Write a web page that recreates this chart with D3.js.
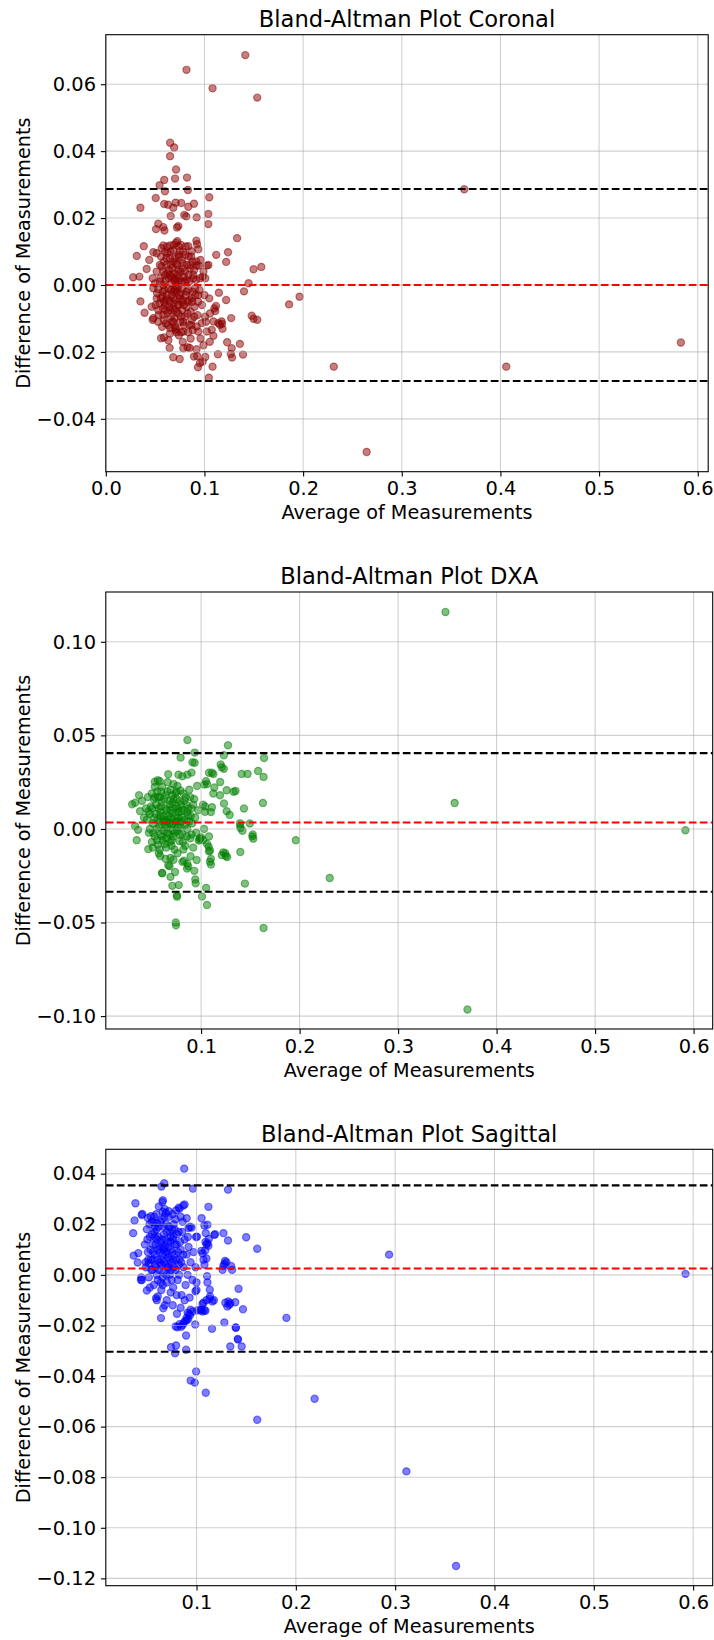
<!DOCTYPE html>
<html>
<head>
<meta charset="utf-8">
<script src="https://cdn.jsdelivr.net/npm/d3@7"></script>
<style>
  html, body { margin: 0; padding: 0; background: #fff; }
  svg { display: block; }
  text { font-family: 'DejaVu Sans', 'Liberation Sans', sans-serif; fill: #000; }
</style>
</head>
<body>
<svg id="chart" width="714" height="1640"></svg>
<script>
// ---- Data: [average, difference] per subject ----
const coronalPoints = [
  [0.1414,0.0687],[0.0818,0.0643],[0.1082,0.0588],[0.1535,0.0560],
  [0.0652,0.0425],[0.0693,0.0411],[0.0652,0.0385],[0.0712,0.0345],
  [0.0592,0.0314],[0.0702,0.0318],[0.0823,0.0321],[0.0545,0.0298],[0.0600,0.0280],[0.0832,0.0284],[0.3633,0.0286],
  [0.1049,0.0262],[0.0506,0.0260],[0.0351,0.0231],[0.0592,0.0242],[0.0631,0.0240],[0.0684,0.0231],[0.0708,0.0246],[0.0765,0.0245],[0.0836,0.0234],[0.0894,0.0243],
  [0.0658,0.0206],[0.0795,0.0209],[0.0816,0.0205],[0.0921,0.0202],[0.1039,0.0212],
  [0.1039,0.0182],[0.0532,0.0183],[0.0583,0.0173],[0.0509,0.0167],[0.0594,0.0163],[0.0735,0.0176],[0.0722,0.0172],
  [0.1331,0.0140],[0.0385,0.0116],[0.0725,0.0131],[0.0712,0.0126],[0.0918,0.0132],[0.0925,0.0122],
  [0.1239,0.0098],[0.1119,0.0090],[0.1220,0.0069],[0.0314,0.0087],[0.1498,0.0047],[0.1576,0.0054],[0.0943,0.0058],[0.1040,0.0060],[0.0277,0.0023],
  [0.1447,0.0005],[0.1401,-0.0019],[0.1146,-0.0023],[0.1220,-0.0045],[0.1858,-0.0058],[0.1964,-0.0035],[0.0351,-0.0049],[0.0393,-0.0083],
  [0.1479,-0.0092],[0.1498,-0.0101],[0.1535,-0.0104],[0.1271,-0.0099],[0.1178,-0.0116],[0.1183,-0.0131],
  [0.1054,-0.0170],[0.1230,-0.0171],[0.1359,-0.0176],[0.1276,-0.0189],[0.1267,-0.0206],[0.1280,-0.0217],[0.1391,-0.0208],[0.1137,-0.0207],
  [0.1082,-0.0244],[0.0934,-0.0246],[0.0954,-0.0233],[0.1008,-0.0215],[0.0926,-0.0212],[0.0920,-0.0192],[0.0828,-0.0186],[0.0850,-0.0188],
  [0.0684,-0.0216],[0.0749,-0.0221],[0.0647,-0.0188],[0.0560,-0.0159],[0.0590,-0.0157],[0.0634,-0.0165],
  [0.1044,-0.0277],[0.2311,-0.0244],[0.2644,-0.0499],[0.4059,-0.0244],[0.5829,-0.0172],
  [0.0714,-0.0141],[0.0765,-0.0141],[0.0835,-0.0141],[0.0706,-0.0134],
  [0.0340,0.0025],[0.0414,0.0048],[0.0441,0.0075],[0.0482,0.0098],[0.0475,0.0020],[0.0475,-0.0104],[0.0566,0.0110],[0.0651,0.0080],
  [0.0786,0.0099],[0.0871,0.0101],[0.0938,0.0107],[0.0921,0.0058],[0.1023,0.0058],
  [0.0982,0.0025],[0.1009,0.0020],[0.0887,0.0030],[0.0820,0.0015],[0.1117,-0.0063],[0.1100,-0.0070],[0.1056,-0.0085],[0.1110,-0.0078],
  [0.1049,-0.0040],[0.1006,-0.0095],[0.0972,-0.0114],[0.0921,-0.0124],[0.0871,-0.0104],[0.0820,-0.0065],[0.0735,-0.0085],[0.0684,-0.0110],
  [0.0651,-0.0129],[0.0786,-0.0139],[0.0846,-0.0119],[0.0482,-0.0099],[0.0532,-0.0075],[0.0583,-0.0090],[0.0516,-0.0040],[0.0465,-0.0065],
  [0.0482,-0.0010],[0.0532,-0.0013],[0.0583,0.0000],[0.0617,-0.0030],[0.0684,-0.0020],[0.0735,-0.0005],[0.0769,0.0010],[0.0836,-0.0015],
  [0.0904,-0.0010],[0.0938,-0.0030],[0.0871,-0.0040],[0.0752,-0.0040],[0.0684,-0.0055],[0.0600,-0.0060],[0.0651,-0.0075],[0.0549,0.0060],
  [0.0583,0.0040],[0.0617,0.0060],[0.0684,0.0070],[0.0735,0.0045],[0.0803,0.0040],[0.0854,0.0050],[0.0651,0.0030],[0.0702,0.0020],
  [0.0516,0.0095],[0.0600,0.0099],[0.0684,0.0104],[0.0735,0.0090],
  [0.0786,-0.0189],[0.0894,-0.0214],[0.0982,-0.0229],
  [0.0938,-0.0139],[0.1023,-0.0139],[0.1074,-0.0134],[0.1140,-0.0114],[0.1157,-0.0119],[0.1174,-0.0109],[0.1091,-0.0109],[0.1091,-0.0152],
  [0.0500,0.0005],[0.0520,-0.0025],[0.0545,-0.0055],[0.0555,0.0020],[0.0570,-0.0035],[0.0580,-0.0070],[0.0595,-0.0015],[0.0605,0.0015],
  [0.0610,-0.0045],[0.0625,-0.0085],[0.0635,-0.0010],[0.0640,0.0045],[0.0650,-0.0050],[0.0660,-0.0095],[0.0665,0.0005],[0.0670,-0.0030],
  [0.0680,-0.0070],[0.0690,0.0035],[0.0695,-0.0100],[0.0700,-0.0045],[0.0705,0.0010],[0.0715,-0.0020],[0.0720,-0.0080],[0.0725,0.0060],
  [0.0740,-0.0060],[0.0745,0.0020],[0.0755,-0.0110],[0.0760,-0.0025],[0.0770,0.0075],[0.0775,-0.0075],[0.0780,-0.0045],[0.0790,0.0025],
  [0.0800,-0.0095],[0.0810,-0.0030],[0.0825,0.0060],[0.0830,-0.0050],[0.0845,0.0010],[0.0860,-0.0080],[0.0865,0.0085],[0.0880,-0.0020],
  [0.0895,0.0045],[0.0900,-0.0065],[0.0915,0.0015],[0.0930,-0.0090],[0.0950,-0.0015],[0.0960,0.0075],[0.0975,-0.0060],[0.0990,0.0040],
  [0.1000,-0.0030],[0.1015,-0.0110],
  [0.0560,0.0085],[0.0590,0.0070],[0.0625,0.0095],[0.0660,0.0060],[0.0700,0.0080],[0.0750,0.0100],[0.0780,0.0065],[0.0810,0.0115],
  [0.0840,0.0085],[0.0880,0.0070],[0.0620,0.0115],[0.0690,0.0120],[0.0760,0.0120],
  [0.0530,-0.0110],[0.0570,-0.0125],[0.0610,-0.0115],[0.0650,-0.0145],[0.0700,-0.0125],[0.0740,-0.0150],[0.0790,-0.0120],[0.0880,-0.0135],
  [0.0960,-0.0160],[0.0860,-0.0160],[0.0780,-0.0170],[0.0990,-0.0180],
  [0.0583,0.0118],[0.0651,0.0118],[0.0735,0.0116],[0.0836,0.0116],
  [0.0505,-0.0060],[0.0515,0.0040],[0.0535,-0.0090],[0.0548,0.0010],[0.0558,-0.0040],[0.0565,0.0055],[0.0578,-0.0020],[0.0588,-0.0105],
  [0.0598,0.0030],[0.0603,-0.0075],[0.0615,0.0080],[0.0622,-0.0040],[0.0632,-0.0120],[0.0638,0.0020],[0.0647,-0.0065],[0.0655,0.0100],
  [0.0663,-0.0015],[0.0672,-0.0110],[0.0678,0.0050],[0.0687,-0.0040],[0.0692,0.0015],[0.0698,-0.0075],[0.0707,0.0065],[0.0712,-0.0130],
  [0.0718,-0.0010],[0.0728,0.0030],[0.0733,-0.0060],[0.0742,0.0085],[0.0748,-0.0030],[0.0757,0.0040],[0.0763,-0.0095],[0.0772,-0.0010],
  [0.0778,0.0050],[0.0785,-0.0110],[0.0793,-0.0060],[0.0802,0.0010],[0.0808,0.0090],[0.0818,-0.0020],[0.0828,-0.0085],[0.0838,0.0030],
  [0.0848,-0.0045],[0.0857,0.0060],[0.0868,-0.0120],[0.0877,-0.0050],[0.0885,0.0020],[0.0897,-0.0095],[0.0908,-0.0030],[0.0918,0.0070],
  [0.0935,-0.0050],[0.0955,0.0020],[0.0665,0.0025],[0.0700,-0.0015],[0.0735,0.0010],[0.0770,-0.0050],[0.0625,0.0035],[0.0590,-0.0050]
];

const dxaPoints = [
  [0.3481,0.1159],[0.3574,0.0139],[0.3704,-0.0965],[0.5917,-0.0007],[0.2306,-0.0262],[0.1962,-0.0060],[0.1634,-0.0529],[0.1445,-0.0292],
  [0.1398,-0.0123],[0.1495,0.0029],[0.1525,-0.0030],[0.1530,-0.0052],[0.1398,0.0015],[0.1400,0.0005],[0.1628,0.0139],
  [0.0861,0.0475],[0.1273,0.0447],[0.0935,0.0408],[0.1231,0.0394],[0.0792,0.0381],[0.1639,0.0379],[0.0912,0.0356],[0.0935,0.0354],
  [0.1199,0.0344],[0.1231,0.0321],[0.1412,0.0294],[0.1472,0.0294],[0.1579,0.0310],[0.1634,0.0278],[0.0666,0.0292],[0.1080,0.0300],
  [0.1110,0.0300],[0.1125,0.0293],[0.0903,0.0301],[0.0810,0.0281],[0.1194,0.0251],[0.1032,0.0237],[0.1134,0.0221],[0.1259,0.0207],
  [0.1330,0.0199],[0.1350,0.0203],[0.1435,0.0109],[0.0300,0.0132],[0.0330,0.0140],[0.0370,0.0180],[0.0530,0.0252],[0.0560,0.0260],[0.0580,0.0255],
  [0.0743,-0.0500],[0.0745,-0.0515],[0.0754,-0.0355],[0.0756,-0.0362],[0.0708,-0.0304],[0.0773,-0.0300],[0.0689,-0.0256],[0.0680,-0.0199],
  [0.0736,-0.0230],[0.0603,-0.0235],[0.0606,-0.0237],[0.0857,-0.0212],[0.0870,-0.0200],[0.0931,-0.0224],[0.0941,-0.0270],[0.0945,-0.0290],
  [0.1051,-0.0315],[0.1009,-0.0361],[0.1060,-0.0406],[0.1225,-0.0125],[0.1245,-0.0130],[0.1265,-0.0150],[0.1090,-0.0175],[0.1100,-0.0190],
  [0.0893,-0.0146],[0.0826,-0.0170],[0.0860,-0.0185],[0.0955,-0.0166],[0.1077,-0.0095],[0.1090,-0.0115],[0.0984,-0.0055],[0.0975,-0.0062],
  [0.0346,-0.0060],[0.0360,-0.0005],[0.0330,0.0015],[0.0464,-0.0108],[0.0510,-0.0100],[0.0570,-0.0130],[0.0585,-0.0145],
  [0.0810,-0.0176],[0.0667,-0.0194],[0.0640,-0.0160],[0.0690,-0.0155],[0.0720,-0.0165],[0.1210,-0.0140],[0.1250,-0.0145],[0.1080,-0.0120],
  [0.1100,-0.0160],[0.1060,-0.0080],[0.0990,-0.0050],[0.1000,-0.0045],[0.1020,-0.0060],[0.1030,0.0000],[0.1080,-0.0040],[0.1420,-0.0010],[0.1520,-0.0040],
  [0.1050,0.0255],[0.1060,0.0240],[0.1124,0.0189],[0.1192,0.0180],[0.1232,0.0136],[0.1260,0.0095],[0.1290,0.0075],[0.1110,0.0116],
  [0.1100,0.0090],[0.1040,0.0091],[0.1020,0.0130],[0.1040,0.0120],[0.1395,0.0030],
  [0.0380,0.0095],[0.0463,0.0093],[0.0480,0.0080],[0.0530,0.0170],[0.0580,0.0170],[0.0660,0.0250],[0.0720,0.0240],[0.0750,0.0200],
  [0.0790,0.0205],[0.0770,0.0290],[0.0860,0.0290],[0.1210,0.0330],
  [0.0450,0.0050],[0.0470,-0.0020],[0.0490,0.0120],[0.0500,-0.0070],[0.0510,0.0030],[0.0520,0.0160],[0.0530,-0.0040],[0.0540,0.0080],
  [0.0550,0.0000],[0.0555,0.0200],[0.0560,-0.0085],[0.0570,0.0110],[0.0580,0.0040],[0.0590,-0.0030],[0.0600,0.0145],[0.0605,0.0225],
  [0.0610,-0.0060],[0.0620,0.0070],[0.0630,0.0010],[0.0640,0.0180],[0.0645,-0.0100],[0.0650,0.0100],[0.0660,-0.0020],[0.0670,0.0050],
  [0.0680,0.0130],[0.0685,-0.0070],[0.0690,0.0210],[0.0700,0.0020],[0.0710,0.0085],[0.0715,-0.0040],[0.0720,0.0160],[0.0730,-0.0110],
  [0.0740,0.0040],[0.0750,0.0120],[0.0755,-0.0010],[0.0760,0.0230],[0.0770,0.0060],[0.0780,-0.0065],[0.0785,0.0150],[0.0790,0.0010],
  [0.0800,0.0095],[0.0810,-0.0030],[0.0820,0.0190],[0.0830,0.0050],[0.0840,-0.0090],[0.0850,0.0130],[0.0860,0.0000],[0.0870,0.0070],
  [0.0880,0.0210],[0.0890,-0.0050],[0.0900,0.0110],[0.0910,0.0030],[0.0920,-0.0100],[0.0930,0.0160],[0.0940,0.0060],[0.0950,-0.0020],
  [0.0960,0.0230],[0.0970,0.0100],
  [0.0500,0.0190],[0.0530,0.0225],[0.0560,0.0050],[0.0590,0.0120],[0.0620,-0.0010],[0.0650,0.0040],[0.0680,0.0030],[0.0710,0.0140],
  [0.0740,0.0190],[0.0770,0.0110],[0.0800,0.0040],[0.0830,0.0150],[0.0860,0.0090],[0.0650,-0.0050],[0.0700,-0.0090],[0.0760,-0.0130],
  [0.0820,-0.0110],[0.0580,-0.0110],[0.0890,0.0170],[0.0920,0.0130],[0.0480,0.0000],[0.0440,0.0110],[0.0420,0.0060],[0.0400,0.0150],[0.0460,0.0170],
  [0.0505,0.0110],[0.0515,-0.0020],[0.0525,0.0060],[0.0545,0.0130],[0.0553,-0.0060],[0.0565,0.0170],[0.0575,0.0010],[0.0585,0.0090],
  [0.0595,0.0200],[0.0602,-0.0040],[0.0613,0.0050],[0.0625,0.0160],[0.0633,-0.0080],[0.0642,0.0110],[0.0652,0.0010],[0.0658,0.0200],
  [0.0667,0.0070],[0.0675,-0.0030],[0.0683,0.0150],[0.0693,0.0060],[0.0702,-0.0060],[0.0708,0.0180],[0.0717,0.0030],[0.0725,0.0110],
  [0.0733,-0.0020],[0.0745,0.0070],[0.0752,0.0160],[0.0763,0.0010],[0.0772,0.0090],[0.0782,-0.0030],[0.0795,0.0130],[0.0805,0.0060],
  [0.0815,-0.0070],[0.0825,0.0100],[0.0835,0.0020],[0.0845,0.0170],[0.0855,-0.0040],[0.0868,0.0110],[0.0878,0.0040],[0.0895,0.0070],
  [0.0905,-0.0030],[0.0625,0.0040],[0.0690,0.0100],[0.0760,0.0040],[0.0590,0.0070],[0.0710,-0.0010]
];

const sagittalPoints = [
  [0.0876,0.0420],[0.0675,0.0362],[0.0647,0.0349],[0.0964,0.0341],[0.1317,0.0337],[0.0385,0.0283],[0.0866,0.0274],[0.0880,0.0278],
  [0.1120,0.0269],[0.0661,0.0295],[0.0657,0.0288],[0.0821,0.0266],[0.0376,0.0215],[0.0454,0.0241],[0.1500,0.0149],[0.1611,0.0103],
  [0.2939,0.0080],[0.5923,0.0004],[0.0362,0.0165],[0.0367,0.0076],[0.0408,0.0049],[0.1271,0.0165],[0.1317,0.0136],[0.1051,0.0224],
  [0.1110,0.0198],[0.1179,0.0158],[0.1110,0.0125],[0.1124,0.0142],[0.1087,0.0096],[0.1287,0.0055],[0.1280,0.0043],[0.1349,0.0035],
  [0.1262,0.0020],[0.1005,0.0151],[0.0950,0.0187],[0.0935,0.0190],[0.0444,-0.0010],[0.0450,-0.0020],[0.0500,-0.0062],[0.0592,-0.0092],
  [0.0665,-0.0132],[0.0642,-0.0171],[0.0803,-0.0154],[0.0808,-0.0207],[0.0743,-0.0286],[0.0794,-0.0279],[0.0784,-0.0310],[0.0895,-0.0296],
  [0.0895,-0.0240],[0.0870,-0.0190],[0.0885,-0.0182],[0.0900,-0.0170],[0.0935,-0.0160],[0.0987,-0.0196],[0.0940,-0.0138],[0.0960,-0.0145],
  [0.1010,-0.0140],[0.1050,-0.0138],[0.1280,-0.0188],[0.1320,-0.0105],[0.1330,-0.0118],[0.1390,-0.0108],[0.1423,-0.0055],[0.1468,-0.0136],
  [0.1396,-0.0209],[0.1418,-0.0256],[0.1455,-0.0283],[0.1340,-0.0283],[0.1905,-0.0170],[0.1156,-0.0213],[0.1134,-0.0059],[0.1130,-0.0095],
  [0.1160,-0.0105],[0.1175,-0.0100],[0.1106,-0.0005],[0.1110,-0.0030],
  [0.0996,-0.0382],[0.0941,-0.0418],[0.0982,-0.0426],[0.1093,-0.0466],[0.1611,-0.0573],[0.2189,-0.0490],[0.3113,-0.0777],[0.3613,-0.1151],
  [0.0794,0.0255],[0.0830,0.0262],[0.0660,0.0250],[0.0690,0.0245],[0.0720,0.0252],[0.0448,0.0237],[0.0510,0.0225],[0.0540,0.0232],
  [0.0570,0.0210],[0.0600,0.0205],[0.0901,0.0224],[0.1079,0.0195],[0.0920,0.0185],[0.1093,0.0165],[0.1186,0.0161],[0.1090,0.0130],
  [0.1100,0.0120],[0.1120,0.0115],[0.1050,0.0095],[0.1060,0.0085],[0.0995,0.0150],[0.0913,0.0150],[0.0414,0.0086],[0.0490,0.0050],
  [0.0520,0.0045],[0.1070,0.0060],[0.1100,0.0065],[0.1080,0.0040],[0.1270,0.0035],[0.1300,0.0050],[0.1358,0.0020],[0.0440,-0.0020],
  [0.0530,-0.0050],[0.0610,-0.0085],[0.0790,-0.0204],[0.0830,-0.0195],[0.0845,-0.0205],[0.0860,-0.0198],[0.0910,-0.0150],[0.0925,-0.0155],
  [0.0915,-0.0175],[0.0900,-0.0180],[0.1395,-0.0208],[0.1415,-0.0253],[0.1290,-0.0110],[0.1310,-0.0125],[0.1340,-0.0112],
  [0.1136,-0.0085],[0.1100,-0.0100],[0.1070,-0.0110],[0.1060,-0.0115],[0.1040,-0.0140],[0.1060,-0.0145],[0.1080,-0.0140],[0.1090,-0.0142],
  [0.1000,-0.0030],[0.0990,-0.0065],
  [0.0480,0.0120],[0.0490,0.0030],[0.0500,0.0180],[0.0510,0.0090],[0.0520,-0.0010],[0.0530,0.0150],[0.0540,0.0060],[0.0550,0.0210],
  [0.0555,0.0020],[0.0560,0.0120],[0.0570,-0.0040],[0.0575,0.0170],[0.0580,0.0080],[0.0590,0.0030],[0.0595,0.0240],[0.0600,0.0140],
  [0.0610,-0.0020],[0.0615,0.0100],[0.0620,0.0190],[0.0630,0.0050],[0.0640,0.0130],[0.0645,-0.0060],[0.0650,0.0220],[0.0660,0.0080],
  [0.0665,0.0010],[0.0670,0.0160],[0.0680,0.0110],[0.0690,0.0040],[0.0695,0.0200],[0.0700,-0.0030],[0.0710,0.0130],[0.0715,0.0070],
  [0.0720,0.0230],[0.0730,0.0000],[0.0735,0.0170],[0.0740,0.0100],[0.0750,0.0050],[0.0760,0.0140],[0.0765,-0.0050],[0.0770,0.0200],
  [0.0780,0.0080],[0.0790,0.0020],[0.0800,0.0120],[0.0810,-0.0020],[0.0820,0.0170],[0.0830,0.0060],[0.0840,0.0100],[0.0850,-0.0080],
  [0.0860,0.0210],[0.0870,0.0030],[0.0880,0.0140],[0.0890,-0.0040],[0.0900,0.0080],[0.0910,0.0000],[0.0920,0.0110],[0.0930,-0.0090],
  [0.0940,0.0050],[0.0960,-0.0020],[0.0970,0.0090],[0.0990,0.0030],[0.1000,-0.0060],
  [0.0560,0.0060],[0.0580,0.0150],[0.0600,0.0000],[0.0630,0.0110],[0.0650,0.0040],[0.0670,0.0190],[0.0700,0.0090],[0.0720,0.0030],
  [0.0740,0.0150],[0.0760,0.0060],[0.0780,0.0180],[0.0800,-0.0080],[0.0820,0.0040],[0.0700,-0.0100],[0.0660,-0.0040],[0.0740,-0.0070],
  [0.0620,0.0270],[0.0680,0.0260],[0.0760,0.0240],[0.0840,0.0230],[0.0600,-0.0100],[0.0680,-0.0120],[0.0760,-0.0120],[0.0840,-0.0130],[0.0880,-0.0100],
  [0.0505,0.0140],[0.0515,0.0060],[0.0527,0.0200],[0.0537,0.0100],[0.0545,0.0020],[0.0553,0.0160],[0.0563,0.0090],[0.0572,0.0230],
  [0.0583,0.0040],[0.0588,0.0120],[0.0598,0.0180],[0.0607,0.0060],[0.0613,0.0150],[0.0623,0.0020],[0.0628,0.0090],[0.0637,0.0210],
  [0.0643,0.0060],[0.0653,0.0140],[0.0657,-0.0010],[0.0663,0.0110],[0.0672,0.0050],[0.0677,0.0230],[0.0685,0.0140],[0.0693,0.0080],
  [0.0702,0.0170],[0.0708,0.0030],[0.0713,0.0110],[0.0723,0.0190],[0.0728,0.0060],[0.0737,0.0130],[0.0745,0.0020],[0.0753,0.0180],
  [0.0757,0.0090],[0.0767,0.0150],[0.0773,0.0030],[0.0783,0.0120],[0.0788,0.0220],[0.0797,0.0060],[0.0805,0.0160],[0.0815,0.0090],
  [0.0825,0.0000],[0.0835,0.0130],[0.0845,0.0050],[0.0855,0.0170],[0.0865,0.0080],[0.0695,0.0000],[0.0640,-0.0030],[0.0750,-0.0020],
  [0.0580,0.0190],[0.0670,0.0100]
];

// Mean difference and limits of agreement (mean, upper, lower)
const coronalLimits  = [0.0000, 0.0287, -0.0287];
const dxaLimits      = [0.0034, 0.0405, -0.0336];
const sagittalLimits = [0.0025, 0.0354, -0.0304];

// Axis tick values
const coronalXTicks  = [0.0, 0.1, 0.2, 0.3, 0.4, 0.5, 0.6];
const coronalYTicks  = [-0.04, -0.02, 0.00, 0.02, 0.04, 0.06];
const dxaXTicks      = [0.1, 0.2, 0.3, 0.4, 0.5, 0.6];
const dxaYTicks      = [-0.10, -0.05, 0.00, 0.05, 0.10];
const sagittalXTicks = [0.1, 0.2, 0.3, 0.4, 0.5, 0.6];
const sagittalYTicks = [-0.12, -0.10, -0.08, -0.06, -0.04, -0.02, 0.00, 0.02, 0.04];

const titles = ["Bland-Altman Plot Coronal", "Bland-Altman Plot DXA", "Bland-Altman Plot Sagittal"];

// ---- Layout and styling for the three stacked panels ----
const panels = [
  { title: titles[0], points: coronalPoints, limits: coronalLimits, color: "#8b0000",
    xTicks: coronalXTicks, yTicks: coronalYTicks, xFmt: ".1f", yFmt: ".2f",
    box: { left: 105.8, right: 708.2, top: 34.7, bottom: 471.7 },
    xDomain: [0.0, 0.6106], yDomain: [-0.0558, 0.0748] },
  { title: titles[1], points: dxaPoints, limits: dxaLimits, color: "#008000",
    xTicks: dxaXTicks, yTicks: dxaYTicks, xFmt: ".1f", yFmt: ".2f",
    box: { left: 105.8, right: 712.7, top: 592, bottom: 1029 },
    xDomain: [0.00325, 0.6194], yDomain: [-0.1069, 0.1266] },
  { title: titles[2], points: sagittalPoints, limits: sagittalLimits, color: "#0000ff",
    xTicks: sagittalXTicks, yTicks: sagittalYTicks, xFmt: ".1f", yFmt: ".2f",
    box: { left: 105.8, right: 712.7, top: 1149.3, bottom: 1585.7 },
    xDomain: [0.00866, 0.6197], yDomain: [-0.1229, 0.04965] }
];

const TICK_FONT = 19.4;
const LABEL_FONT = 19.2;
const TITLE_FONT = 22.6;

const svg = d3.select("#chart");

panels.forEach((p, i) => {
  const b = p.box;
  const x = d3.scaleLinear().domain(p.xDomain).range([b.left, b.right]);
  const y = d3.scaleLinear().domain(p.yDomain).range([b.bottom, b.top]);
  const g = svg.append("g");

  const clipId = "clip" + i;
  g.append("clipPath").attr("id", clipId)
    .append("rect")
    .attr("x", b.left).attr("y", b.top)
    .attr("width", b.right - b.left).attr("height", b.bottom - b.top);

  const plot = g.append("g").attr("clip-path", `url(#${clipId})`);

  // scatter points
  plot.append("g").selectAll("circle")
    .data(p.points)
    .join("circle")
    .attr("cx", d => x(d[0]))
    .attr("cy", d => y(d[1]))
    .attr("r", 3.6)
    .attr("fill", p.color)
    .attr("fill-opacity", 0.5)
    .attr("stroke", p.color)
    .attr("stroke-opacity", 0.5)
    .attr("stroke-width", 1.2);

  // grid
  const grid = plot.append("g").attr("stroke", "#b0b0b0").attr("stroke-opacity", 0.6).attr("stroke-width", 1.1);
  grid.selectAll("line.gx").data(p.xTicks).join("line")
    .attr("class", "gx")
    .attr("x1", d => x(d)).attr("x2", d => x(d))
    .attr("y1", b.top).attr("y2", b.bottom);
  grid.selectAll("line.gy").data(p.yTicks).join("line")
    .attr("class", "gy")
    .attr("y1", d => y(d)).attr("y2", d => y(d))
    .attr("x1", b.left).attr("x2", b.right);

  // mean (red) and limits of agreement (black)
  const lineColors = ["#ff0000", "#000000", "#000000"];
  plot.append("g").selectAll("line")
    .data(p.limits)
    .join("line")
    .attr("x1", b.left).attr("x2", b.right)
    .attr("y1", d => y(d)).attr("y2", d => y(d))
    .attr("stroke", (d, k) => lineColors[k])
    .attr("stroke-width", 2.1)
    .attr("stroke-dasharray", "7.7,3.3");

  // axes
  const xAxis = d3.axisBottom(x).tickValues(p.xTicks)
    .tickFormat(d3.format(p.xFmt)).tickSize(4.9).tickPadding(4.9);
  const yAxis = d3.axisLeft(y).tickValues(p.yTicks)
    .tickFormat(d3.format(p.yFmt)).tickSize(4.9).tickPadding(4.9);

  const gx = g.append("g").attr("transform", `translate(0,${b.bottom})`).call(xAxis);
  const gy = g.append("g").attr("transform", `translate(${b.left},0)`).call(yAxis);
  [gx, gy].forEach(a => {
    a.select(".domain").remove();
    a.selectAll(".tick line").attr("stroke", "#000").attr("stroke-width", 1.1);
    a.selectAll(".tick text")
      .attr("fill", "#000")
      .style("font-family", "'DejaVu Sans', sans-serif")
      .style("font-size", TICK_FONT + "px");
  });

  // frame
  g.append("rect")
    .attr("x", b.left).attr("y", b.top)
    .attr("width", b.right - b.left).attr("height", b.bottom - b.top)
    .attr("fill", "none").attr("stroke", "#000").attr("stroke-width", 1.1);

  // title
  g.append("text")
    .attr("x", (b.left + b.right) / 2)
    .attr("y", b.top - 7.8)
    .attr("text-anchor", "middle")
    .style("font-size", TITLE_FONT + "px")
    .text(p.title);

  // axis labels
  g.append("text")
    .attr("x", (b.left + b.right) / 2)
    .attr("y", b.bottom + 47.6)
    .attr("text-anchor", "middle")
    .style("font-size", LABEL_FONT + "px")
    .text("Average of Measurements");

  g.append("text")
    .attr("transform", `translate(29.5,${(b.top + b.bottom) / 2}) rotate(-90)`)
    .attr("text-anchor", "middle")
    .style("font-size", LABEL_FONT + "px")
    .text("Difference of Measurements");
});
</script>
</body>
</html>
